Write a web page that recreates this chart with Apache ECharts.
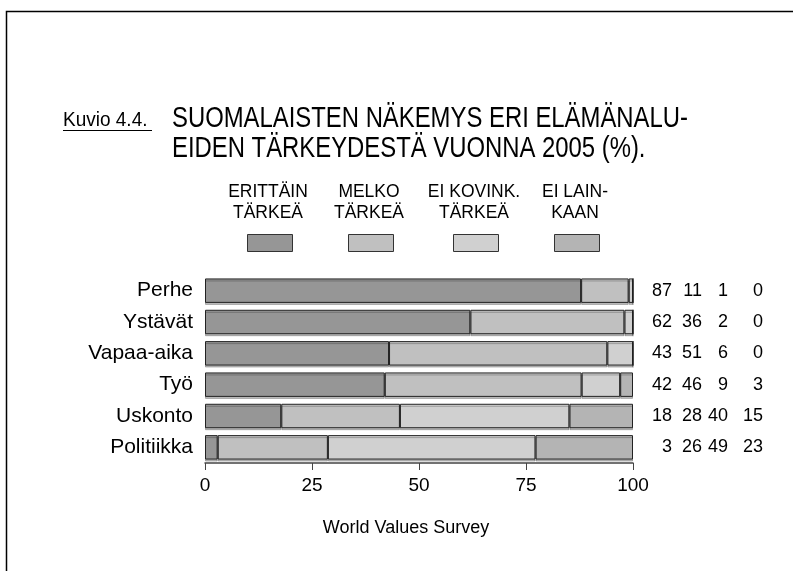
<!DOCTYPE html>
<html><head><meta charset="utf-8">
<script src="https://cdn.jsdelivr.net/npm/echarts@6/dist/echarts.min.js"></script>
<style>html,body{margin:0;padding:0;background:#fff}#c{width:793px;height:571px}</style>
</head><body><div id="c"></div>
<script>
const categories = ['Perhe', 'Ystävät', 'Vapaa-aika', 'Työ', 'Uskonto', 'Politiikka'];
const seriesNames = ['ERITTÄIN\nTÄRKEÄ', 'MELKO\nTÄRKEÄ', 'EI KOVINK.\nTÄRKEÄ', 'EI LAIN-\nKAAN'];
const erittainTarkea = [87, 62, 43, 42, 18, 3];
const melkoTarkea = [11, 36, 51, 46, 28, 26];
const eiKovinkTarkea = [1, 2, 6, 9, 40, 49];
const eiLainkaan = [0, 0, 0, 3, 15, 23];
const xTicks = [0, 25, 50, 75, 100];
const titleLines = ['SUOMALAISTEN NÄKEMYS ERI ELÄMÄNALU-', 'EIDEN TÄRKEYDESTÄ VUONNA 2005 (%).'];
const figureLabel = 'Kuvio 4.4.';
const sourceText = 'World Values Survey';

const colors = ['#969696', '#c0c0c0', '#d0d0d0', '#b4b4b4'];
const SANS = "'Liberation Sans',Arial,sans-serif";

const allSeries = [erittainTarkea, melkoTarkea, eiKovinkTarkea, eiLainkaan];
const totals = categories.map((_, i) => allSeries.reduce((s, arr) => s + arr[i], 0));

const chart = echarts.init(document.getElementById('c'), null, {renderer: 'canvas'});

const legendCenters = [270, 371, 476, 577];
const graphics = [
  {type: 'polyline', silent: true, shape: {points: [[6.5, 571], [6.5, 11.5], [793, 11.5]]},
   style: {stroke: '#000', lineWidth: 1.5, fill: null}},
  {type: 'text', x: 63, y: 120, scaleX: 0.95, style: {text: figureLabel, font: "20px " + SANS, fill: '#000', verticalAlign: 'middle'}},
  {type: 'line', shape: {x1: 63, y1: 130.5, x2: 152, y2: 130.5}, style: {stroke: '#000', lineWidth: 1}},
  {type: 'text', x: 172, y: 104, scaleX: 0.823, style: {text: titleLines.join('\n'), font: "29px " + SANS, lineHeight: 30, fill: '#000', verticalAlign: 'top'}},
  {type: 'text', x: 406, y: 528, style: {text: sourceText, font: "18px " + SANS, fill: '#000', align: 'center', verticalAlign: 'middle'}}
];
seriesNames.forEach((n, i) => {
  const cx = legendCenters[i];
  graphics.push({type: 'text', x: cx - 2, y: 181, scaleX: 0.92, style: {text: n, font: "19px " + SANS, lineHeight: 21, fill: '#000', align: 'center', verticalAlign: 'top'}});
  graphics.push({type: 'rect', shape: {x: cx - 22.5, y: 234.5, width: 45, height: 17}, style: {fill: colors[i], stroke: '#333', lineWidth: 1}});
});

const option = {
  animation: false,
  backgroundColor: '#fff',
  grid: {left: 205, width: 428, top: 275, height: 188, containLabel: false},
  xAxis: {
    type: 'value', min: 0, max: 100, interval: 25,
    axisLine: {show: true, lineStyle: {color: '#444', width: 1.5}},
    axisTick: {show: true, length: 7, lineStyle: {color: '#444', width: 1}},
    splitLine: {show: false},
    axisLabel: {color: '#000', fontSize: 19, fontFamily: SANS, margin: 13,
      formatter: v => xTicks.includes(v) ? String(v) : ''}
  },
  yAxis: [{
    type: 'category', data: categories, inverse: true,
    axisLine: {show: false}, axisTick: {show: false},
    axisLabel: {color: '#000', fontSize: 21, fontFamily: SANS, margin: 12}
  }, {
    type: 'category', data: categories, inverse: true, position: 'right',
    axisLine: {show: false}, axisTick: {show: false},
    axisLabel: {
      margin: 9, align: 'left', color: '#000', fontSize: 18, fontFamily: SANS,
      formatter: (v) => {
        const idx = categories.indexOf(v);
        return '{a|' + allSeries[0][idx] + '}{b|' + allSeries[1][idx] + '}{c|' + allSeries[2][idx] + '}{d|' + allSeries[3][idx] + '}';
      },
      rich: {
        a: {width: 30, align: 'right', fontSize: 18, fontFamily: SANS, color: '#000'},
        b: {width: 30, align: 'right', fontSize: 18, fontFamily: SANS, color: '#000'},
        c: {width: 26, align: 'right', fontSize: 18, fontFamily: SANS, color: '#000'},
        d: {width: 35, align: 'right', fontSize: 18, fontFamily: SANS, color: '#000'}
      }
    }
  }],
  series: allSeries.map((arr, s) => ({
    type: 'bar', name: seriesNames[s], stack: 'total', yAxisIndex: 0,
    barCategoryGap: '22%',
    data: arr.map((v, i) => v / totals[i] * 100),
    itemStyle: {color: colors[s], borderColor: '#222', borderWidth: 1,
      shadowColor: 'rgba(0,0,0,0.25)', shadowOffsetY: 2, shadowBlur: 0},
    silent: true
  })),
  graphic: graphics
};
chart.setOption(option);
</script>
</body></html>
